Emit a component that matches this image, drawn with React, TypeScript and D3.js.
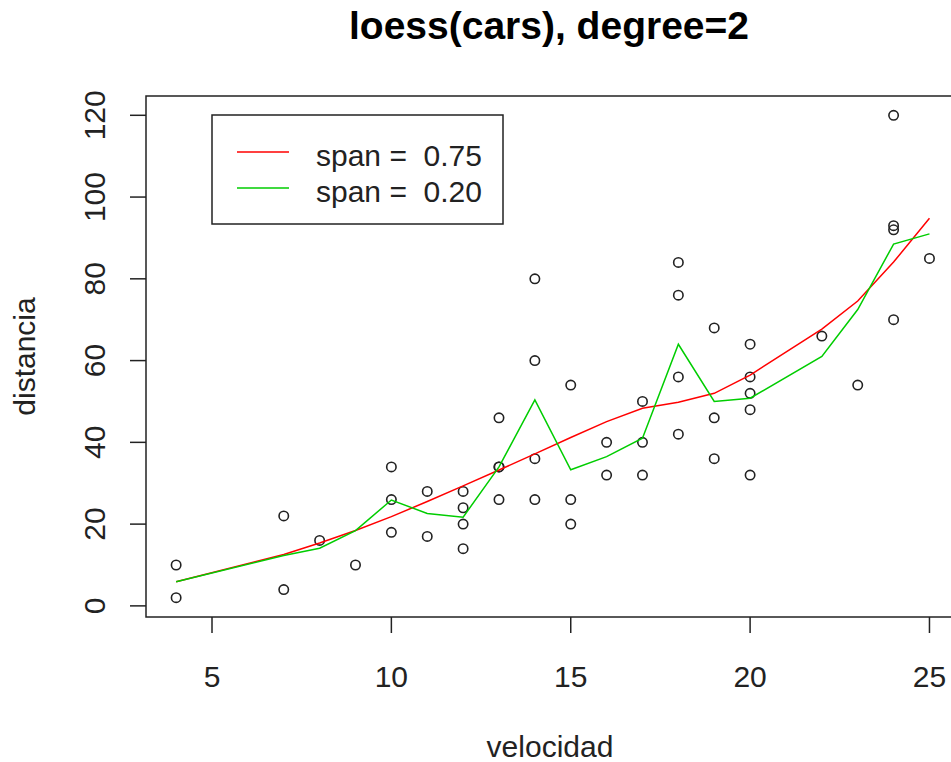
import React from "react";
import * as d3 from "d3";

const speed = [4,4,7,7,8,9,10,10,10,11,11,12,12,12,12,13,13,13,13,14,14,14,14,15,15,15,16,16,17,17,17,18,18,18,18,19,19,19,20,20,20,20,20,22,23,24,24,24,24,25];
const dist = [2,10,4,22,16,10,18,26,34,17,28,14,20,24,28,26,34,34,46,26,36,60,80,20,26,54,32,40,32,40,50,42,56,76,84,36,46,68,32,48,52,56,64,66,54,70,92,93,120,85];

const fitSpeeds = [4,7,8,9,10,11,12,13,14,15,16,17,18,19,20,22,23,24,25];
const fit075 = [5.89,12.57,15.37,18.43,21.83,25.52,29.35,33.23,37.17,41.2,45.06,48.36,49.82,51.99,56.46,67.71,74.57,84.1,94.8];
const fit020 = [5.9,12.3,14.1,18.4,25.9,22.6,21.7,34,50.4,33.3,36.5,41,64,50,50.8,61,72.5,88.5,91];

const xTicks = [5,10,15,20,25];
const yTicks = [0,20,40,60,80,100,120];
const legendLabels = ["span =  0.75", "span =  0.20"];
const legendColors = ["#ff0000", "#00cd00"];

const W = 951, H = 762;
const left = 146, right = 959.6, top = 96, bottom = 617;

export default function App() {
  const x = d3.scaleLinear().domain([3.16, 25.84]).range([left, right]);
  const y = d3.scaleLinear().domain([-2.72, 124.72]).range([bottom, top]);
  const line = d3.line<number>().x((_, i) => x(fitSpeeds[i])).y((d) => y(d));
  const font = "'Liberation Sans', Arial, sans-serif";
  return (
    <svg width={W} height={H} style={{ position: "absolute", left: 0, top: 0, background: "#fff" }} fontFamily={font}>
      <defs>
        <clipPath id="plotclip">
          <rect x={left} y={top} width={right - left} height={bottom - top} />
        </clipPath>
      </defs>
      <rect x={0} y={0} width={W} height={H} fill="#fff" />
      <text x={549} y={39} textAnchor="middle" fontWeight="bold" fontSize={39} fill="#000">loess(cars), degree=2</text>
      <g clipPath="url(#plotclip)">
        {speed.map((s, i) => (
          <circle key={i} cx={x(s)} cy={y(dist[i])} r={4.7} fill="none" stroke="#222" strokeWidth={1.6} />
        ))}
        <path d={line(fit075) || ""} fill="none" stroke={legendColors[0]} strokeWidth={1.5} />
        <path d={line(fit020) || ""} fill="none" stroke={legendColors[1]} strokeWidth={1.5} />
      </g>
      <rect x={left} y={top} width={right - left} height={bottom - top} fill="none" stroke="#222" strokeWidth={1.5} />
      {xTicks.map((t) => (
        <g key={t}>
          <line x1={x(t)} x2={x(t)} y1={bottom} y2={bottom + 16} stroke="#222" strokeWidth={1.5} />
          <text x={x(t)} y={687} textAnchor="middle" fontSize={30} fill="#222">{t}</text>
        </g>
      ))}
      {yTicks.map((t) => (
        <g key={t}>
          <line x1={left - 16} x2={left} y1={y(t)} y2={y(t)} stroke="#222" strokeWidth={1.5} />
          <text transform={`translate(105,${y(t)}) rotate(-90)`} textAnchor="middle" fontSize={30} fill="#222">{t}</text>
        </g>
      ))}
      <text x={550} y={757} textAnchor="middle" fontSize={30} fill="#222">velocidad</text>
      <text transform={`translate(35,${(top + bottom) / 2}) rotate(-90)`} textAnchor="middle" fontSize={30} fill="#222">distancia</text>
      <rect x={212} y={115} width={291} height={109} fill="#fff" stroke="#222" strokeWidth={1.5} />
      {legendLabels.map((lab, i) => (
        <g key={lab}>
          <line x1={237} x2={289} y1={152 + i * 36} y2={152 + i * 36} stroke={legendColors[i]} strokeWidth={1.5} />
          <text x={316} y={166 + i * 36} fontSize={30} fill="#222" style={{ whiteSpace: "pre" }}>{lab}</text>
        </g>
      ))}
    </svg>
  );
}
